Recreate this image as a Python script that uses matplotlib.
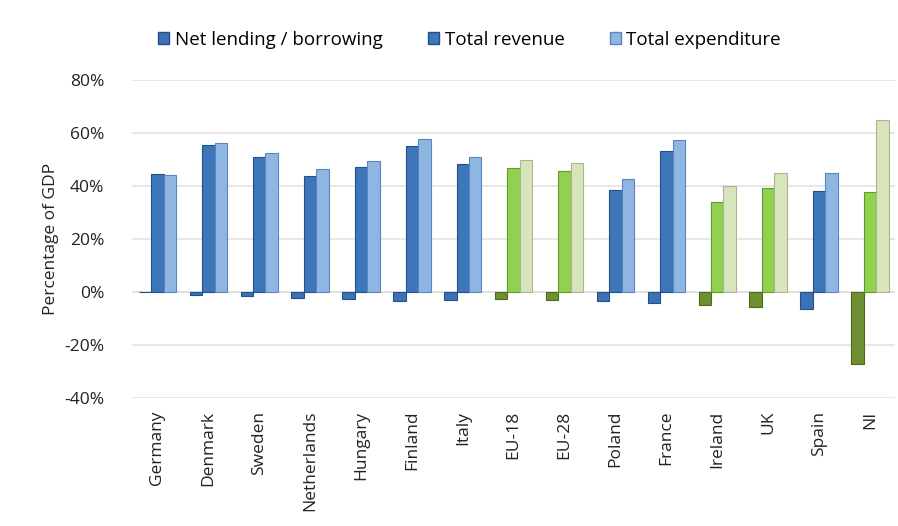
import numpy as np
import matplotlib.pyplot as plt
from matplotlib.patches import Patch

# Government finances, % of GDP
countries = ["Germany", "Denmark", "Sweden", "Netherlands", "Hungary", "Finland",
             "Italy", "EU-18", "EU-28", "Poland", "France", "Ireland", "UK",
             "Spain", "NI"]
net_lending = [0.2, -1.2, -1.5, -2.3, -2.6, -3.2, -3.0, -2.6, -3.0, -3.3,
               -4.0, -5.0, -5.5, -6.5, -27.0]
total_revenue = [44.6, 55.5, 51.1, 43.9, 47.3, 55.1, 48.2, 46.9, 45.7, 38.5,
                 53.2, 33.8, 39.4, 38.1, 37.6]
total_expenditure = [44.3, 56.3, 52.6, 46.3, 49.5, 57.6, 51.1, 49.8, 48.8, 42.5,
                     57.4, 40.0, 45.0, 45.0, 64.9]
# EU aggregates and UK/Ireland/NI shown in green
highlight = ["EU-18", "EU-28", "Ireland", "UK", "NI"]

blue = ["#3c72b5", "#3e76ba", "#8fb5e3"]
blue_edge = ["#24508a", "#24508a", "#5b86bd"]
green = ["#6f8f32", "#92d050", "#d8e4bc"]
green_edge = ["#4e6a1e", "#5f9a2a", "#a9b88c"]

plt.rcParams["font.family"] = ["Open Sans", "DejaVu Sans"]

fig = plt.figure(figsize=(8.98, 5.26), dpi=100)
ax = fig.add_axes([0.147, 0.243, 0.85, 0.605])

x = np.arange(len(countries))
w = 0.245
series = [net_lending, total_revenue, total_expenditure]
offsets = [-w, 0, w]

for i, name in enumerate(countries):
    pal, edg = (green, green_edge) if name in highlight else (blue, blue_edge)
    for k in range(3):
        ax.bar(x[i] + offsets[k], series[k][i], width=w, color=pal[k],
               edgecolor=edg[k], linewidth=0.8, zorder=3)

ax.set_xlim(-0.5, len(countries) - 0.5)
ax.set_ylim(-40, 80)
ax.set_yticks(range(-40, 81, 20))
ax.set_yticklabels([f"{v}%" for v in range(-40, 81, 20)], fontsize=12.5, color="#222222")
ax.set_xticks(x)
ax.set_xticklabels(countries, rotation=90, fontsize=12.5, color="#222222")
ax.tick_params(axis="both", length=0)
ax.tick_params(axis="y", pad=20)
ax.tick_params(axis="x", pad=9)
ax.yaxis.grid(True, color="#e3e3e3", linewidth=1.2, zorder=0)
ax.axhline(0, color="#d5d5d5", linewidth=1.2, zorder=1)
for s in ax.spines.values():
    s.set_visible(False)
ax.set_ylabel("Percentage of GDP", fontsize=12.5, color="#222222", labelpad=4)

handles = [Patch(facecolor=blue[0], edgecolor=blue_edge[0]),
           Patch(facecolor=blue[1], edgecolor=blue_edge[1]),
           Patch(facecolor=blue[2], edgecolor=blue_edge[2])]
fig.legend(handles, ["Net lending / borrowing", "Total revenue", "Total expenditure"],
           loc="center", bbox_to_anchor=(0.523, 0.924), ncol=3, frameon=False,
           fontsize=13.5, handlelength=0.6, handleheight=0.6, handletextpad=0.3,
           columnspacing=2.4)

fig.savefig("out.png", dpi=100)
